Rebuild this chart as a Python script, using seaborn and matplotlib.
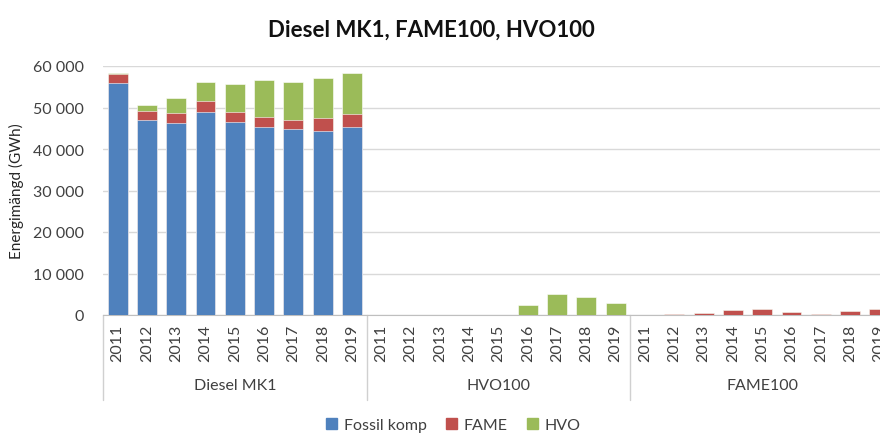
import pandas as pd
import seaborn as sns
import matplotlib.pyplot as plt
from matplotlib.patches import Patch
from matplotlib.ticker import FuncFormatter

# data (GWh)
groups = ["Diesel MK1", "HVO100", "FAME100"]
years = ["2011", "2012", "2013", "2014", "2015", "2016", "2017", "2018", "2019"]

fossil_mk1 = [55900, 47000, 46300, 48800, 46500, 45300, 44700, 44400, 45300]
fame_mk1 = [2200, 2100, 2400, 2700, 2500, 2500, 2400, 3100, 3100]
hvo_mk1 = [200, 1500, 3700, 4600, 6600, 8900, 9000, 9500, 9900]

hvo_hvo100 = [0, 0, 0, 0, 0, 2500, 5000, 4300, 3000]
fame_fame100 = [0, 150, 600, 1200, 1400, 800, 150, 1000, 1400]

zeros = [0] * 9

# 1 build the long table
rows = []
series = {
    "Diesel MK1": (fossil_mk1, fame_mk1, hvo_mk1),
    "HVO100": (zeros, zeros, hvo_hvo100),
    "FAME100": (zeros, fame_fame100, zeros),
}
for g in groups:
    fos, fam, hvo = series[g]
    for i, y in enumerate(years):
        rows.append({"label": g + " " + y, "group": g, "year": y,
                     "fossil": fos[i], "fame": fam[i], "hvo": hvo[i]})
df = pd.DataFrame(rows)
df["mid"] = df["fossil"] + df["fame"]
df["top"] = df["mid"] + df["hvo"]
order = list(df["label"])

# 2 style
sns.set_style("white")
plt.rcParams["font.family"] = ["Lato", "DejaVu Sans"]

blue, red, green = "#4F81BD", "#C0504D", "#9BBB59"

fig = plt.figure(figsize=(8.8, 4.35), dpi=100)
ax = fig.add_axes([103 / 880, 119 / 435, 791 / 880, 249 / 435])

# 3 stacked bars: draw totals first, then cover
for col, c in [("top", green), ("mid", red), ("fossil", blue)]:
    sns.barplot(data=df, x="label", y=col, order=order, color=c, width=0.68,
                saturation=1, errorbar=None, ax=ax, zorder=3,
                edgecolor="white", linewidth=0.4)

ax.set_xlim(-0.5, len(order) - 0.5)
ax.set_ylim(0, 60000)
ax.set_yticks(range(0, 60001, 10000))
ax.yaxis.set_major_formatter(FuncFormatter(lambda v, p: f"{v:,.0f}".replace(",", " ")))
ax.grid(axis="y", color="#D9D9D9", lw=1, zorder=0)
ax.set_axisbelow(True)
for s in ["top", "right", "left"]:
    ax.spines[s].set_visible(False)
ax.spines["bottom"].set_color("#BFBFBF")

ax.set_xticks(range(len(order)))
ax.set_xticklabels(list(df["year"]), rotation=90, fontsize=11.5, color="#404040")
ax.tick_params(axis="x", length=0, pad=6)
ax.tick_params(axis="y", length=0, pad=14, labelsize=11.5, labelcolor="#404040")
ax.set_xlabel("")
ax.set_ylabel("Energimängd (GWh)", fontsize=11, color="#262626", labelpad=6)

# 4 group separators and labels under the axis
tr = ax.get_xaxis_transform()
for k in range(len(groups)):
    x0 = k * len(years) - 0.5
    ax.plot([x0, x0], [0, -0.34], transform=tr, color="#D0D0D0", lw=1, clip_on=False)
    ax.text(x0 + len(years) / 2, -0.28, groups[k], transform=tr, ha="center",
            va="center", fontsize=11.5, color="#404040")

fig.text(0.49, 0.93, "Diesel MK1, FAME100, HVO100", ha="center", va="center",
         fontsize=16, fontweight="bold", color="#111111")

handles = [Patch(color=blue, label="Fossil komp"), Patch(color=red, label="FAME"),
           Patch(color=green, label="HVO")]
fig.legend(handles=handles, loc="center", bbox_to_anchor=(0.515, 0.02), ncol=3,
           frameon=False, fontsize=11.5, handlelength=0.7, handleheight=0.7,
           handletextpad=0.4, columnspacing=1.2, labelcolor="#404040")

plt.savefig("out.png", dpi=100)
plt.close()
